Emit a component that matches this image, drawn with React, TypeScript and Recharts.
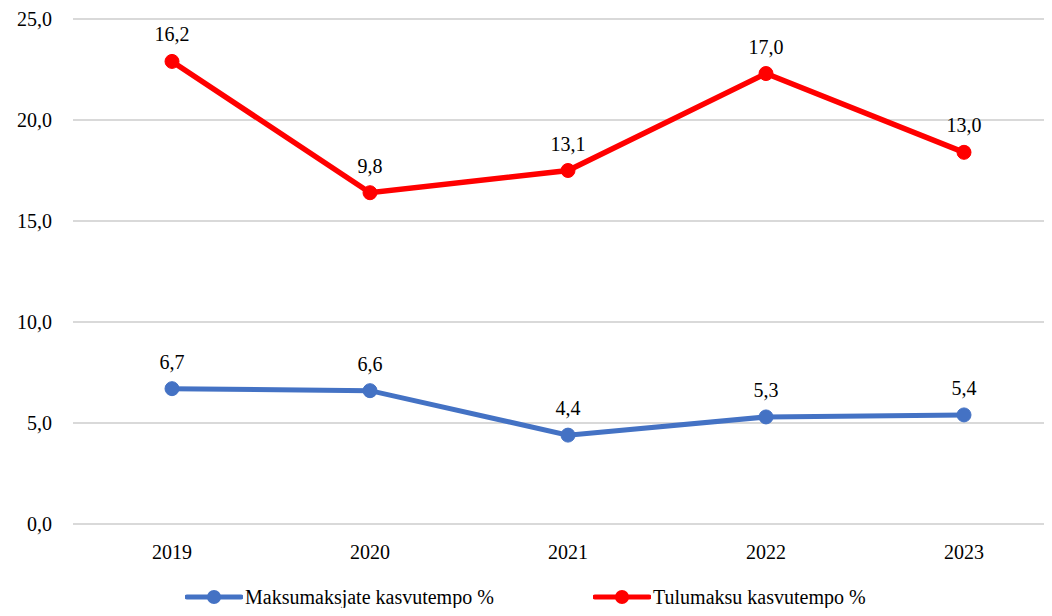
import { LineChart, Line, XAxis, YAxis, CartesianGrid, LabelList } from 'recharts';

// ── Data ──────────────────────────────────────────────────────────────────────

const YEARS = ['2019', '2020', '2021', '2022', '2023'];
const PAYERS_GROWTH = [6.7, 6.6, 4.4, 5.3, 5.4];       // Maksumaksjate kasvutempo %
const TAX_GROWTH = [16.2, 9.8, 13.1, 17.0, 13.0];      // Tulumaksu kasvutempo %
const Y_TICKS = [0, 5, 10, 15, 20, 25];

const BLUE = '#4472C4';
const RED = '#FF0000';
const FONT = 'Liberation Serif, DejaVu Serif, Times New Roman, serif';

// stacked line chart: red series sits on top of the blue one
const rows = YEARS.map((year, i) => ({
  year,
  payers: PAYERS_GROWTH[i],
  tax: TAX_GROWTH[i],
  taxStacked: +(PAYERS_GROWTH[i] + TAX_GROWTH[i]).toFixed(1),
}));

const fmt = (v: number) => v.toFixed(1).replace('.', ',');

function LegendItems() {
  const items = [
    { label: 'Maksumaksjate kasvutempo %', color: BLUE, left: 185 },
    { label: 'Tulumaksu kasvutempo %', color: RED, left: 593 },
  ];
  return (
    <div style={{ position: 'absolute', left: 0, top: 585, width: 1052, height: 24 }}>
      {items.map((it) => (
        <div key={it.label} style={{ position: 'absolute', left: it.left, top: 0, display: 'flex', alignItems: 'center', fontFamily: FONT, fontSize: 20, color: '#000', lineHeight: '24px' }}>
          <svg width={58} height={16} style={{ marginRight: 2 }}>
            <line x1={2} y1={8} x2={56} y2={8} stroke={it.color} strokeWidth={5} strokeLinecap="round" />
            <circle cx={29} cy={8} r={7} fill={it.color} />
          </svg>
          <span>{it.label}</span>
        </div>
      ))}
    </div>
  );
}

export default function App() {
  return (
    <div style={{ position: 'relative', width: 1052, height: 616, overflow: 'hidden', margin: -8, background: '#fff', fontFamily: FONT }}>
      <LineChart width={1070} height={616} data={rows} margin={{ top: 19, right: 7, left: 0, bottom: 44 }} style={{ fontFamily: FONT }}>
        <CartesianGrid vertical={false} stroke="#D9D9D9" strokeWidth={2} />
        <XAxis
          dataKey="year"
          padding={{ left: 99, right: 99 }}
          axisLine={false}
          tickLine={false}
          tickSize={0}
          tickMargin={21}
          height={48}
          tick={{ fontSize: 20, fill: '#000', fontFamily: FONT }}
        />
        <YAxis
          domain={[0, 25]}
          ticks={Y_TICKS}
          tickFormatter={fmt}
          axisLine={false}
          tickLine={false}
          tickSize={0}
          tickMargin={21}
          width={73}
          tick={{ fontSize: 20, fill: '#000', fontFamily: FONT }}
        />
        <Line
          dataKey="payers"
          stroke={BLUE}
          strokeWidth={5}
          dot={{ r: 7, fill: BLUE, stroke: BLUE, strokeWidth: 1 }}
          isAnimationActive={false}
        >
          <LabelList dataKey="payers" position="top" offset={20} formatter={(v: number) => fmt(v)} style={{ fontSize: 20, fill: '#000', fontFamily: FONT }} />
        </Line>
        <Line
          dataKey="taxStacked"
          stroke={RED}
          strokeWidth={5.5}
          dot={{ r: 7, fill: RED, stroke: RED, strokeWidth: 1 }}
          isAnimationActive={false}
        >
          <LabelList dataKey="tax" position="top" offset={20} formatter={(v: number) => fmt(v)} style={{ fontSize: 20, fill: '#000', fontFamily: FONT }} />
        </Line>
      </LineChart>
      <LegendItems />
    </div>
  );
}
